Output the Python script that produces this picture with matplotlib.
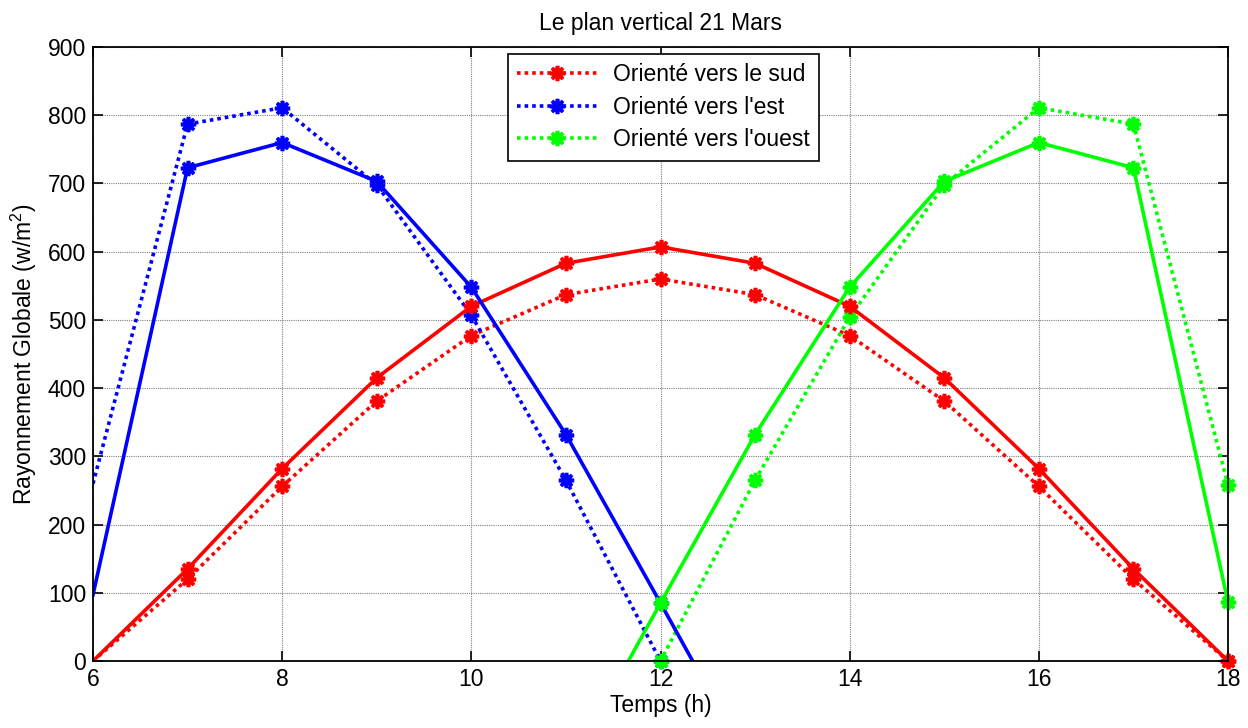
import numpy as np
import matplotlib
matplotlib.use("Agg")
import matplotlib.pyplot as plt
from matplotlib.legend_handler import HandlerTuple

plt.rcParams["font.family"] = ["Liberation Sans", "DejaVu Sans"]
plt.rcParams["mathtext.fontset"] = "custom"
plt.rcParams["mathtext.rm"] = "Liberation Sans"
plt.rcParams["mathtext.it"] = "Liberation Sans"

# heures de la journee
heures = np.arange(6, 19)

# plan vertical oriente sud (deux modeles)
sud_1 = [0, 135, 282, 415, 520, 583, 607, 583, 520, 415, 282, 135, 0]
sud_2 = [0, 120, 256, 381, 477, 537, 560, 537, 477, 381, 256, 120, 0]

# oriente est, 6h -> 13h (valeurs negatives hors echelle)
heures_est = np.arange(6, 14)
est_1 = [97, 723, 760, 703, 548, 332, 85, -165]
est_2 = [260, 787, 811, 698, 507, 265, 0, -265]

# oriente ouest, 11h -> 18h
heures_ouest = np.arange(11, 19)
ouest_1 = [-165, 85, 332, 548, 703, 760, 723, 86]
ouest_2 = [-265, 0, 265, 504, 698, 811, 787, 258]

FS = 16.5
fig = plt.figure(figsize=(12.48, 7.28), dpi=100)
ax = fig.add_axes([0.0745, 0.092, 0.9095, 0.8434])

dots = (0, (1, 1.1))


def courbe(x, y, color, ls):
    x = np.asarray(x, dtype=float)
    y = np.asarray(y, dtype=float)
    (ligne,) = ax.plot(x, y, color=color, linestyle=ls, lw=2.6)
    # marqueurs non coupes par le cadre, sauf a 6h
    ok = (y >= 0) & (x > 6)
    (pts,) = ax.plot(x[ok], y[ok], linestyle="none", marker=(8, 2, 0),
                     markersize=11, markeredgewidth=2.6, color=color, clip_on=False)
    return (ligne, pts)


h_sud = courbe(heures, sud_2, "#ff0000", dots)
h_est = courbe(heures_est, est_2, "#0000ff", dots)
h_ouest = courbe(heures_ouest, ouest_2, "#00ff00", dots)
courbe(heures, sud_1, "#ff0000", "-")
courbe(heures_est, est_1, "#0000ff", "-")
courbe(heures_ouest, ouest_1, "#00ff00", "-")

ax.set_xlim(6, 18)
ax.set_ylim(0, 900)
ax.set_xticks(np.arange(6, 19, 2))
ax.set_yticks(np.arange(0, 901, 100))
ax.tick_params(direction="in", top=True, right=True, labelsize=FS, length=7, width=1.2, pad=5)
ax.grid(True, color="#808080", linestyle=(0, (1, 1)), linewidth=0.8)
for s in ax.spines.values():
    s.set_linewidth(1.3)

ax.set_title("Le plan vertical 21 Mars", fontsize=FS, pad=12)
ax.set_xlabel("Temps (h)", fontsize=FS, labelpad=2)
ax.set_ylabel("Rayonnement Globale (w/m$^{2}$)", fontsize=FS, labelpad=6)

leg = ax.legend([h_sud, h_est, h_ouest],
                ["Orienté vers le sud", "Orienté vers l'est", "Orienté vers l'ouest"],
                handler_map={tuple: HandlerTuple(ndivide=1)},
                loc="upper left", bbox_to_anchor=(0.3656, 0.9886), fontsize=FS,
                frameon=True, fancybox=False, edgecolor="black", framealpha=1,
                handlelength=3.5, borderpad=0.4, labelspacing=0.42, handletextpad=0.7,
                borderaxespad=0)
leg.get_frame().set_linewidth(1.2)

fig.savefig("out.png", dpi=100)
